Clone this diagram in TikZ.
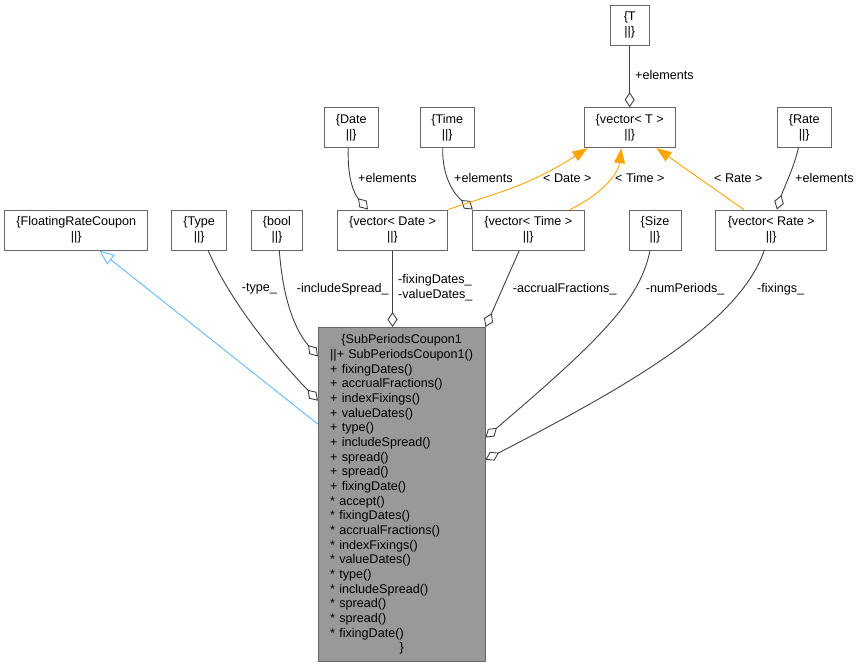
\documentclass[tikz,border=0pt]{standalone}
\usepackage{fontspec}
\setmainfont{Liberation Sans}
\usetikzlibrary{arrows.meta,calc}
\definecolor{dxedge}{HTML}{404040}
\definecolor{dxborder}{HTML}{666666}
\definecolor{dxmain}{HTML}{999999}
\definecolor{dxinherit}{HTML}{63B8FF}
\definecolor{dxtmpl}{HTML}{FFA500}
\newcommand{\dxfont}{\fontsize{12.6}{14.67}\selectfont}
\tikzset{
  umlclass/.style={rectangle, draw=dxborder, fill=white, line width=1pt,
                   minimum height=40pt, inner sep=0pt, align=center,
                   font=\dxfont},
  umlmain/.style={umlclass, fill=dxmain, align=left, text width=143pt,
                  inner xsep=11.8pt, minimum height=334pt},
  umlaggr/.style={draw=dxedge, line width=0.9pt,
                  -{Diamond[open, length=15pt, width=10pt]}},
  umltmpl/.style={draw=dxtmpl, line width=0.9pt,
                  -{Triangle[length=15pt, width=11pt]}},
  umlinherit/.style={draw=dxinherit, line width=0.9pt,
                     -{Triangle[open, length=15pt, width=12pt]}},
  umllabel/.style={anchor=west, inner sep=0pt, font=\dxfont}
}

\begin{document}
\begin{tikzpicture}[x=1pt, y=-1pt]
  \useasboundingbox (0,0) rectangle (861,667);
  % The class boxes: name / centre / width / type shown.
  \foreach \nm/\cx/\cy/\bw/\lbl in {
      T/629.7/25/39.3/T,
      vecT/629.7/127.7/91.3/vector< T >,
      Date/351.3/127.5/54/Date,
      Time/447.2/127.5/54.3/Time,
      Rate/804.3/127.5/54/Rate,
      FRC/76.3/230/142.7/FloatingRateCoupon,
      Type/199.2/230/55/Type,
      bool/277/230/50.6/bool,
      vecDate/392.5/230/110.4/vector< Date >,
      vecTime/528.3/230/112/vector< Time >,
      Size/655/230/52/Size,
      vecRate/771.2/230/111/vector< Rate >} {
    \node[umlclass, minimum width=\bw pt] (\nm) at (\cx,\cy) {\{\lbl\\||\}};
  }
  % The coupon itself, with its member list.
  \node[umlmain] (coupon) at (401.7,494.5) {%
    \makebox[143pt][c]{\{SubPeriodsCoupon1}\\
    ||+ SubPeriodsCoupon1()\\
    + fixingDates()\\
    + accrualFractions()\\
    + indexFixings()\\
    + valueDates()\\
    + type()\\
    + includeSpread()\\
    + spread()\\
    + spread()\\
    + fixingDate()\\
    {*} accept()\\
    {*} fixingDates()\\
    {*} accrualFractions()\\
    {*} indexFixings()\\
    {*} valueDates()\\
    {*} type()\\
    {*} includeSpread()\\
    {*} spread()\\
    {*} spread()\\
    {*} fixingDate()\\
    \makebox[143pt][c]{\}}};

  % Element types held by the vectors.
  \draw[umlaggr] (T) -- (vecT);
  \draw[umlaggr] ($(Date.south)+(-3,0)$) .. controls (347,180) and (355,195)
    .. ($(vecDate.north west)!0.28!(vecDate.north east)$);
  \draw[umlaggr] ($(Time.south)+(-4.5,0)$) .. controls (442,178) and (455,195)
    .. ($(vecTime.north west)+(1,0)$);
  \draw[umlaggr] ($(Rate.south)+(-6,0)$) .. controls (795,165) and (783,190)
    .. ($(vecRate.north west)!0.55!(vecRate.north east)$);
  \node[umllabel] (lbTelem) at (635,75) {+elements};
  \node[umllabel] (lbDateelem) at (358,178) {+elements};
  \node[umllabel] (lbTimeelem) at (454,178) {+elements};
  \node[umllabel] (lbRateelem) at (795,178) {+elements};

  % Template instances.
  \draw[umltmpl] (vecDate.north east) .. controls (500,192) and (530,185)
    .. ($(vecT.south west)+(4,0)$);
  \draw[umltmpl] ($(vecTime.north west)!0.87!(vecTime.north east)$)
    .. controls (600,195) and (618,175)
    .. ($(vecT.south west)!0.41!(vecT.south east)$);
  \draw[umltmpl] ($(vecRate.north west)!0.255!(vecRate.north east)$)
    -- ($(vecT.south west)!0.79!(vecT.south east)$);
  \node[umllabel] (lbDate) at (543,178) {< Date >};
  \node[umllabel] (lbTime) at (615,178) {< Time >};
  \node[umllabel] (lbRate) at (714,178) {< Rate >};

  % Base class.
  \draw[umlinherit] ($(coupon.north west)!0.29!(coupon.south west)$)
    -- ($(FRC.south west)!0.66!(FRC.south east)$);

  % Members of the coupon.
  \draw[umlaggr] ($(Type.south)+(9,0)$) .. controls (225,290) and (260,340)
    .. ($(coupon.north west)!0.22!(coupon.south west)$);
  \draw[umlaggr] ($(bool.south)+(2.3,0)$) .. controls (283,300) and (295,330)
    .. ($(coupon.north west)!0.088!(coupon.south west)$);
  \draw[umlaggr] (vecDate.south) -- (vecDate.south |- coupon.north);
  \draw[umlaggr] ($(vecTime.south)+(-9,0)$) -- (coupon.north east);
  \draw[umlaggr] ($(Size.south)+(-5,0)$) .. controls (640,300) and (600,340)
    .. ($(coupon.north east)!0.33!(coupon.south east)$);
  \draw[umlaggr] ($(vecRate.south)+(-7,0)$) .. controls (740,320) and (640,380)
    .. ($(coupon.north east)!0.396!(coupon.south east)$);
  \node[umllabel] (lbType) at (241.7,289) {-type\_};
  \node[umllabel] (lbSpread) at (296.7,289) {-includeSpread\_};
  \node[umllabel, align=left] (lbDates) at (398,288)
    {-fixingDates\_\\-valueDates\_};
  \node[umllabel] (lbAccr) at (512.7,289) {-accrualFractions\_};
  \node[umllabel] (lbNum) at (645.7,289) {-numPeriods\_};
  \node[umllabel] (lbFix) at (757,289) {-fixings\_};
\end{tikzpicture}
\end{document}
